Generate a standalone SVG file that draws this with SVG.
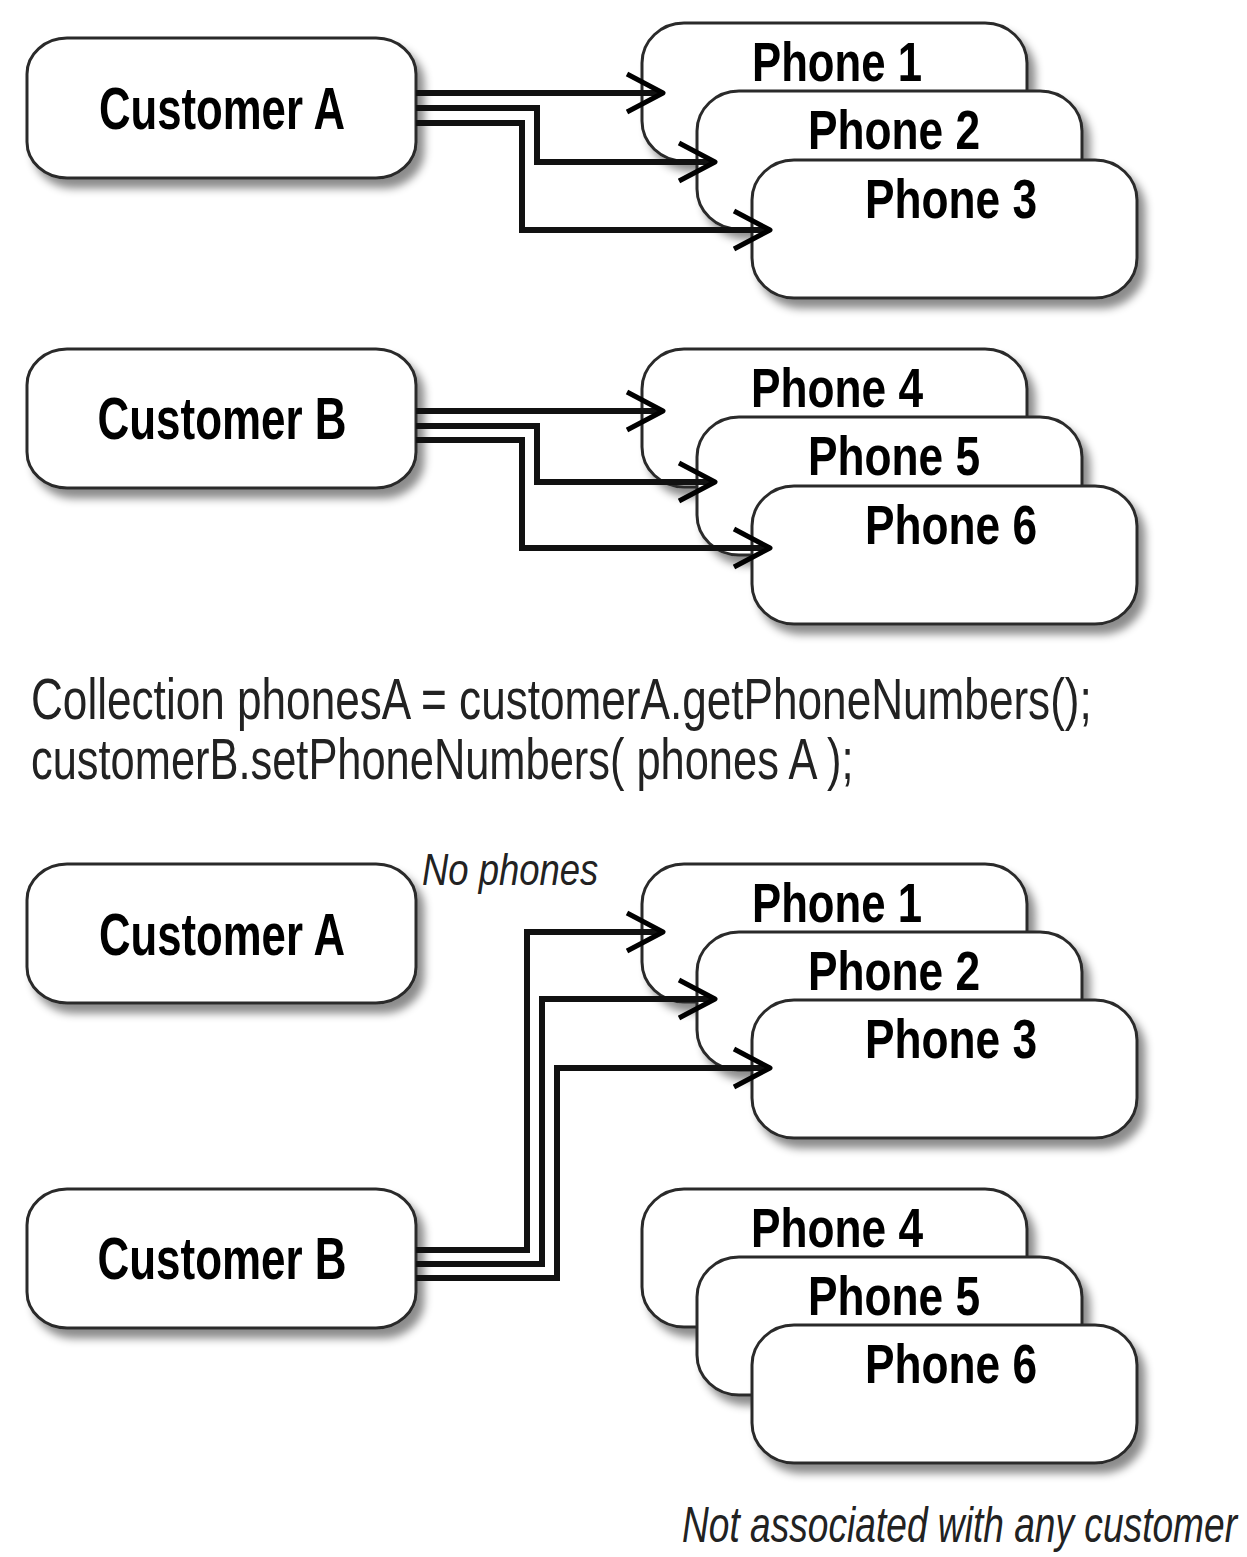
<svg xmlns="http://www.w3.org/2000/svg" width="1247" height="1557" viewBox="0 0 1247 1557">
<style>
.box{fill:#fff;stroke:#2a2a2a;stroke-width:3;filter:url(#sh)}
.lbl{font-family:"Liberation Sans Narrow","Liberation Sans",Arial,sans-serif;font-weight:bold;fill:#000;text-anchor:middle}
.cust{font-size:60px}
.ph{font-size:56px}
.code{font-family:"Liberation Sans",Arial,sans-serif;font-size:58px;fill:#222}
.note{font-family:"Liberation Sans",Arial,sans-serif;font-style:italic;fill:#222}
.conn{fill:none;stroke:#111;stroke-width:6;marker-end:url(#arr)}
</style>
<defs>
<filter id="sh" x="-10%" y="-10%" width="130%" height="140%">
<feDropShadow dx="7" dy="9" stdDeviation="4" flood-color="#000" flood-opacity="0.45"/>
</filter>
<marker id="arr" markerUnits="userSpaceOnUse" markerWidth="60" markerHeight="60" viewBox="-45 -30 60 60" refX="0" refY="0" orient="auto" overflow="visible">
<path d="M-36,-19 L0,0 L-36,19" fill="none" stroke="#000" stroke-width="5" stroke-linejoin="round"/>
</marker>
</defs>
<rect width="1247" height="1557" fill="#fff"/>

<!-- Group 1 -->
<g id="customerA1"><rect class="box" x="27" y="38" width="389" height="140" rx="40" ry="36"/><text class="lbl cust" x="222" y="129" textLength="246" lengthAdjust="spacingAndGlyphs">Customer A</text></g>
<g id="phone1a"><rect class="box" x="642" y="23" width="385" height="138" rx="42" ry="40"/><text class="lbl ph" x="837" y="81" textLength="170" lengthAdjust="spacingAndGlyphs">Phone 1</text></g>
<g id="phone2a"><rect class="box" x="697" y="91" width="385" height="138" rx="42" ry="40"/><text class="lbl ph" x="894" y="149" textLength="172" lengthAdjust="spacingAndGlyphs">Phone 2</text></g>
<g id="phone3a"><rect class="box" x="752" y="160" width="385" height="138" rx="42" ry="40"/><text class="lbl ph" x="951" y="218" textLength="172" lengthAdjust="spacingAndGlyphs">Phone 3</text></g>

<!-- Group 2 -->
<g id="customerB1"><rect class="box" x="27" y="349" width="389" height="139" rx="40" ry="36"/><text class="lbl cust" x="222" y="439" textLength="249" lengthAdjust="spacingAndGlyphs">Customer B</text></g>
<g id="phone4a"><rect class="box" x="642" y="349" width="385" height="138" rx="42" ry="40"/><text class="lbl ph" x="837" y="407" textLength="172" lengthAdjust="spacingAndGlyphs">Phone 4</text></g>
<g id="phone5a"><rect class="box" x="697" y="417" width="385" height="138" rx="42" ry="40"/><text class="lbl ph" x="894" y="475" textLength="172" lengthAdjust="spacingAndGlyphs">Phone 5</text></g>
<g id="phone6a"><rect class="box" x="752" y="486" width="385" height="138" rx="42" ry="40"/><text class="lbl ph" x="951" y="544" textLength="172" lengthAdjust="spacingAndGlyphs">Phone 6</text></g>

<!-- Code -->
<text class="code" transform="translate(31,719) scale(0.761,1)" x="0" y="0" textLength="1394" lengthAdjust="spacingAndGlyphs">Collection phonesA = customerA.getPhoneNumbers();</text>
<text class="code" transform="translate(31,779) scale(0.761,1)" x="0" y="0" textLength="1081" lengthAdjust="spacingAndGlyphs">customerB.setPhoneNumbers( phones A );</text>

<!-- Group 3 -->
<g id="customerA2"><rect class="box" x="27" y="864" width="389" height="139" rx="40" ry="36"/><text class="lbl cust" x="222" y="955" textLength="246" lengthAdjust="spacingAndGlyphs">Customer A</text></g>
<text class="note" transform="translate(422,885) scale(0.82,1)" x="0" y="0" font-size="44" textLength="215" lengthAdjust="spacingAndGlyphs">No phones</text>
<g id="phone1b"><rect class="box" x="642" y="864" width="385" height="138" rx="42" ry="40"/><text class="lbl ph" x="837" y="922" textLength="170" lengthAdjust="spacingAndGlyphs">Phone 1</text></g>
<g id="phone2b"><rect class="box" x="697" y="932" width="385" height="138" rx="42" ry="40"/><text class="lbl ph" x="894" y="990" textLength="172" lengthAdjust="spacingAndGlyphs">Phone 2</text></g>
<g id="phone3b"><rect class="box" x="752" y="1000" width="385" height="138" rx="42" ry="40"/><text class="lbl ph" x="951" y="1058" textLength="172" lengthAdjust="spacingAndGlyphs">Phone 3</text></g>

<!-- Group 4 -->
<g id="customerB2"><rect class="box" x="27" y="1189" width="389" height="139" rx="40" ry="36"/><text class="lbl cust" x="222" y="1279" textLength="249" lengthAdjust="spacingAndGlyphs">Customer B</text></g>
<g id="phone4b"><rect class="box" x="642" y="1189" width="385" height="138" rx="42" ry="40"/><text class="lbl ph" x="837" y="1247" textLength="172" lengthAdjust="spacingAndGlyphs">Phone 4</text></g>
<g id="phone5b"><rect class="box" x="697" y="1257" width="385" height="138" rx="42" ry="40"/><text class="lbl ph" x="894" y="1315" textLength="172" lengthAdjust="spacingAndGlyphs">Phone 5</text></g>
<g id="phone6b"><rect class="box" x="752" y="1325" width="385" height="138" rx="42" ry="40"/><text class="lbl ph" x="951" y="1383" textLength="172" lengthAdjust="spacingAndGlyphs">Phone 6</text></g>
<text class="note" transform="translate(682,1542) scale(0.745,1)" x="0" y="0" font-size="50" textLength="745" lengthAdjust="spacingAndGlyphs">Not associated with any customer</text>

<!-- Connectors -->
<g id="connectors">
<path class="conn" d="M416,93 H663"/>
<path class="conn" d="M416,108 H537 V162 H715"/>
<path class="conn" d="M416,123 H522 V230 H770"/>
<path class="conn" d="M416,411 H663"/>
<path class="conn" d="M416,426 H537 V482 H715"/>
<path class="conn" d="M416,440 H522 V548 H770"/>
<path class="conn" d="M416,1250 H527 V932 H663"/>
<path class="conn" d="M416,1264 H542 V999 H715"/>
<path class="conn" d="M416,1278 H557 V1068 H770"/>
</g>
</svg>
